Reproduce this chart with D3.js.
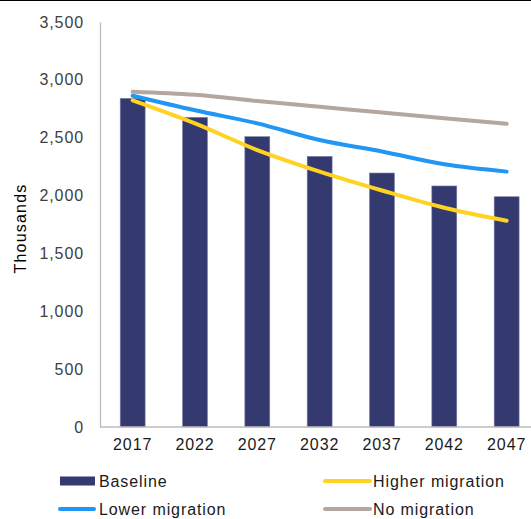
<!DOCTYPE html>
<html>
<head>
<meta charset="utf-8">
<script src="https://cdn.jsdelivr.net/npm/d3@7"></script>
<style>
  html, body { margin: 0; padding: 0; background: #fff; }
  svg { display: block; font-family: "Liberation Sans", Arial, sans-serif; }
</style>
</head>
<body>
<svg id="chart" width="531" height="519"></svg>
<script>
// Population projection, thousands
const years = ["2017", "2022", "2027", "2032", "2037", "2042", "2047"];
const baseline = [2840, 2676, 2509, 2339, 2195, 2083, 1990];
const higherMigration = [2823, 2624, 2393, 2207, 2044, 1895, 1783];
const lowerMigration = [2863, 2737, 2624, 2480, 2381, 2270, 2207];
const noMigration = [2898, 2871, 2817, 2767, 2717, 2668, 2621];
const yTicks = [0, 500, 1000, 1500, 2000, 2500, 3000, 3500];

const colors = {
  baseline: "#343A70",
  higher: "#FFD320",
  lower: "#2196F3",
  none: "#B4A7A0",
  axis: "#BDBDBD",
  text: "#404040"
};

const FONT = "Liberation Sans, Arial, sans-serif";
const FS = 16;
const LS = 0.9;

const svg = d3.select("#chart");
const W = 531, H = 519;
const plot = { left: 100, top: 22, bottom: 427, bandStart: 101.5, bandEnd: 537.8 };

// frame line along the top edge
svg.append("rect").attr("x", 0).attr("y", 0).attr("width", W).attr("height", 1).attr("fill", "#000");

const x = d3.scaleBand().domain(years).range([plot.bandStart, plot.bandEnd]).paddingInner(0.6).paddingOuter(0.3);
const y = d3.scaleLinear().domain([0, 3500]).range([plot.bottom, plot.top]);

// y axis labels
const yAxis = d3.axisLeft(y).tickValues(yTicks).tickSize(0).tickPadding(16)
  .tickFormat(d3.format(","));
const gy = svg.append("g").attr("transform", `translate(${plot.left},0)`).call(yAxis);
gy.select(".domain").attr("stroke", colors.axis).attr("stroke-width", 1.3);
gy.selectAll("text").attr("font-size", FS).attr("letter-spacing", LS).attr("fill", colors.text)
  .attr("font-family", FONT);

// axis title
svg.append("text")
  .attr("transform", `translate(26,${(plot.top + plot.bottom) / 2 + 4}) rotate(-90)`)
  .attr("text-anchor", "middle")
  .attr("font-size", FS)
  .attr("letter-spacing", 1.2)
  .attr("fill", "#000")
  .text("Thousands");

// bars
svg.append("g").selectAll("rect").data(years).join("rect")
  .attr("x", d => x(d))
  .attr("y", (d, i) => y(baseline[i]))
  .attr("width", x.bandwidth())
  .attr("height", (d, i) => y(0) - y(baseline[i]))
  .attr("fill", colors.baseline)
  .attr("stroke", "#7b80a8")
  .attr("stroke-width", 0.6);

// x axis
const xAxis = d3.axisBottom(x).tickSize(0).tickPadding(12);
const gx = svg.append("g").attr("transform", `translate(0,${plot.bottom})`).call(xAxis);
gx.select(".domain").attr("stroke", colors.axis).attr("stroke-width", 1.3)
  .attr("d", `M${plot.left},0H${plot.bandEnd}`);
gx.selectAll("text").attr("font-size", FS).attr("letter-spacing", LS).attr("fill", "#1a1a1a")
  .attr("font-family", FONT);

// projection lines
const cx = d => x(d) + x.bandwidth() / 2;
const line = d3.line().x((d, i) => cx(years[i])).y(d => y(d)).curve(d3.curveCatmullRom.alpha(0.5));
const series = [
  { values: noMigration, color: colors.none },
  { values: lowerMigration, color: colors.lower },
  { values: higherMigration, color: colors.higher }
];
svg.append("g").selectAll("path").data(series).join("path")
  .attr("d", s => line(s.values))
  .attr("fill", "none")
  .attr("stroke", s => s.color)
  .attr("stroke-width", 4)
  .attr("stroke-linecap", "round")
  .attr("stroke-linejoin", "round");

// legend
const legend = svg.append("g").attr("font-size", FS).attr("letter-spacing", LS).attr("fill", "#1a1a1a");
const legendItems = [
  { label: "Baseline", type: "bar", color: colors.baseline, lx: 60, ly: 481 },
  { label: "Higher migration", type: "line", color: colors.higher, lx: 325, ly: 481 },
  { label: "Lower migration", type: "line", color: colors.lower, lx: 60, ly: 509 },
  { label: "No migration", type: "line", color: colors.none, lx: 325, ly: 509 }
];
legendItems.forEach(it => {
  if (it.type === "bar") {
    legend.append("rect").attr("x", it.lx).attr("y", it.ly - 4.5).attr("width", 35).attr("height", 9).attr("fill", it.color);
  } else {
    const w = it.lx < 100 ? 34 : 45;
    legend.append("line").attr("x1", it.lx).attr("x2", it.lx + w).attr("y1", it.ly).attr("y2", it.ly)
      .attr("stroke", it.color).attr("stroke-width", 4).attr("stroke-linecap", "round");
  }
  const tx = it.lx < 100 ? 99 : 373;
  legend.append("text").attr("x", tx).attr("y", it.ly + 6).text(it.label);
});
</script>
</body>
</html>
